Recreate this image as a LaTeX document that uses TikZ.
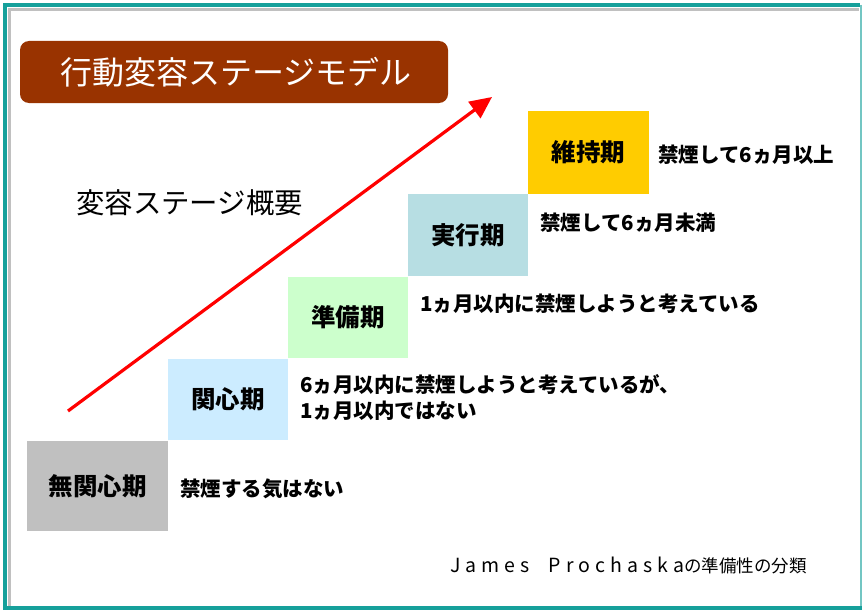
\documentclass[tikz,border=0pt]{standalone}
\usepackage{fontspec}
\setmainfont{Noto Sans CJK JP}
\usetikzlibrary{arrows.meta}
\definecolor{teal1}{RGB}{22,160,155}
\definecolor{shadowgray}{RGB}{192,192,192}
\definecolor{titlebrown}{RGB}{153,51,0}
\definecolor{c1}{RGB}{192,192,192}
\definecolor{c2}{RGB}{204,236,255}
\definecolor{c3}{RGB}{204,255,204}
\definecolor{c4}{RGB}{183,222,227}
\definecolor{c5}{RGB}{255,204,0}
\tikzset{
  stagebox/.style={inner sep=0pt, font=\fontsize{24.5}{28}\selectfont\bfseries, text=black},
  desc/.style={inner sep=0pt, anchor=west, font=\fontsize{20.5}{26}\selectfont\bfseries, text=black, align=left},
}
\begin{document}
\begin{tikzpicture}[x=1pt,y=-1pt]
\useasboundingbox (0,0) rectangle (862,610);
\fill[white] (0,0) rectangle (862,610);
% frame
\draw[shadowgray, line width=3.5pt] (9.5,606) -- (9.5,9.5) -- (859,9.5);
\draw[teal1, line width=4pt] (860,5) -- (5,5) -- (5,608) -- (862,608);
\draw[teal1!60, line width=1.5pt] (861,5) -- (861,606);
% title
\node[fill=titlebrown, rounded corners=9pt, minimum width=428pt, minimum height=62pt, inner sep=0pt] (title) at (234,72) {};
\node[inner sep=0pt, text=white, font=\fontsize{32}{36}\selectfont] (titletext) at (236,72) {行動変容ステージモデル};
% subtitle
\node[inner sep=0pt, anchor=west, font=\fontsize{28.4}{32}\selectfont] (sub) at (76,203) {変容ステージ概要};
% arrow
\coordinate (astart) at (68,411);
\coordinate (aend) at (492,97);
\draw[red, line width=3.2pt, -{Triangle[length=22pt,width=20pt]}] (astart) -- (aend);
% stages
\node[stagebox, fill=c1, minimum width=141pt, minimum height=90pt] (s1) at (97.5,486) {無関心期};
\node[stagebox, fill=c2, minimum width=120pt, minimum height=81pt] (s2) at (228,399.5) {関心期};
\node[stagebox, fill=c3, minimum width=120pt, minimum height=81pt] (s3) at (348,317.5) {準備期};
\node[stagebox, fill=c4, minimum width=120pt, minimum height=82pt] (s4) at (468,235) {実行期};
\node[stagebox, fill=c5, minimum width=121pt, minimum height=83pt] (s5) at (588.5,152.5) {維持期};
% descriptions
\node[desc] (d1) at (180,489) {禁煙する気はない};
\node[desc] (d2) at (300,398) {6ヵ月以内に禁煙しようと考えているが、\\1ヵ月以内ではない};
\node[desc] (d3) at (420,304) {1ヵ月以内に禁煙しようと考えている};
\node[desc] (d4) at (540,223) {禁煙して6ヵ月未満};
\node[desc] (d5) at (658,155) {禁煙して6ヵ月以上};
% footer
\node[inner sep=0pt, anchor=west, font=\fontsize{17.5}{20}\selectfont] (foot) at (450,565)
  {{\fontsize{19.5}{20}\selectfont\addfontfeature{LetterSpace=26}James\ \ Prochaska}の準備性の分類};
\end{tikzpicture}
\end{document}
